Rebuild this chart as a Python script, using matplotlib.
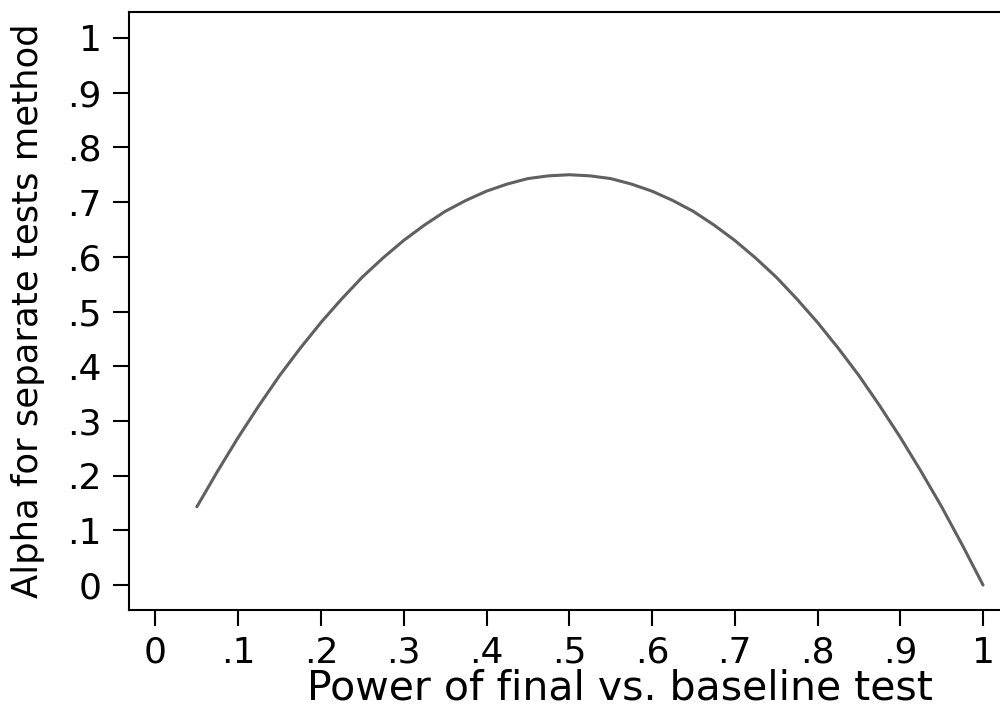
import matplotlib
matplotlib.use('Agg')
from matplotlib import pyplot as plt

plt.rcParams['font.family'] = ['DejaVu Sans']

# values
power = [0.05, 0.075, 0.1, 0.125, 0.15, 0.175, 0.2, 0.225, 0.25, 0.275,
         0.3, 0.325, 0.35, 0.375, 0.4, 0.425, 0.45, 0.475, 0.5, 0.525,
         0.55, 0.575, 0.6, 0.625, 0.65, 0.675, 0.7, 0.725, 0.75, 0.775,
         0.8, 0.825, 0.85, 0.875, 0.9, 0.925, 0.95, 0.975, 1.0]
alpha = [0.143, 0.208, 0.270, 0.328, 0.383, 0.433, 0.480, 0.523, 0.563, 0.598,
         0.630, 0.658, 0.683, 0.703, 0.720, 0.733, 0.743, 0.748, 0.750, 0.748,
         0.743, 0.733, 0.720, 0.703, 0.683, 0.658, 0.630, 0.598, 0.563, 0.523,
         0.480, 0.433, 0.383, 0.328, 0.270, 0.208, 0.143, 0.073, 0.0]

ticks = [0, 0.1, 0.2, 0.3, 0.4, 0.5, 0.6, 0.7, 0.8, 0.9, 1]
tick_labels = ['0', '.1', '.2', '.3', '.4', '.5', '.6', '.7', '.8', '.9', '1']


def main():
    fig = plt.figure(figsize=(10, 7.1), dpi=100)
    ax = fig.add_axes([0.129, 0.1408, 0.871, 0.8423])

    ax.plot(power, alpha, color='#606060', linewidth=2.2, solid_capstyle='round')

    ax.set_xlim(-0.032, 1.0205)
    ax.set_ylim(-0.0457, 1.0475)
    ax.set_xticks(ticks)
    ax.set_xticklabels(tick_labels)
    ax.set_yticks(ticks)
    ax.set_yticklabels(tick_labels)

    ax.spines['right'].set_visible(False)
    for side in ['left', 'bottom', 'top']:
        ax.spines[side].set_linewidth(1.5)
    ax.tick_params(direction='out', length=11.5, width=1.5, labelsize=26)
    ax.tick_params(axis='x', pad=7)
    ax.tick_params(axis='y', pad=8)

    ax.set_xlabel('Power of final vs. baseline test', fontsize=29.5)
    ax.xaxis.set_label_coords(0.564, -0.097)
    ax.xaxis.label.set_verticalalignment('top')
    ax.set_ylabel('Alpha for separate tests method', fontsize=25.5, labelpad=16)

    fig.savefig('out.png', dpi=100)


if __name__ == '__main__':
    main()
